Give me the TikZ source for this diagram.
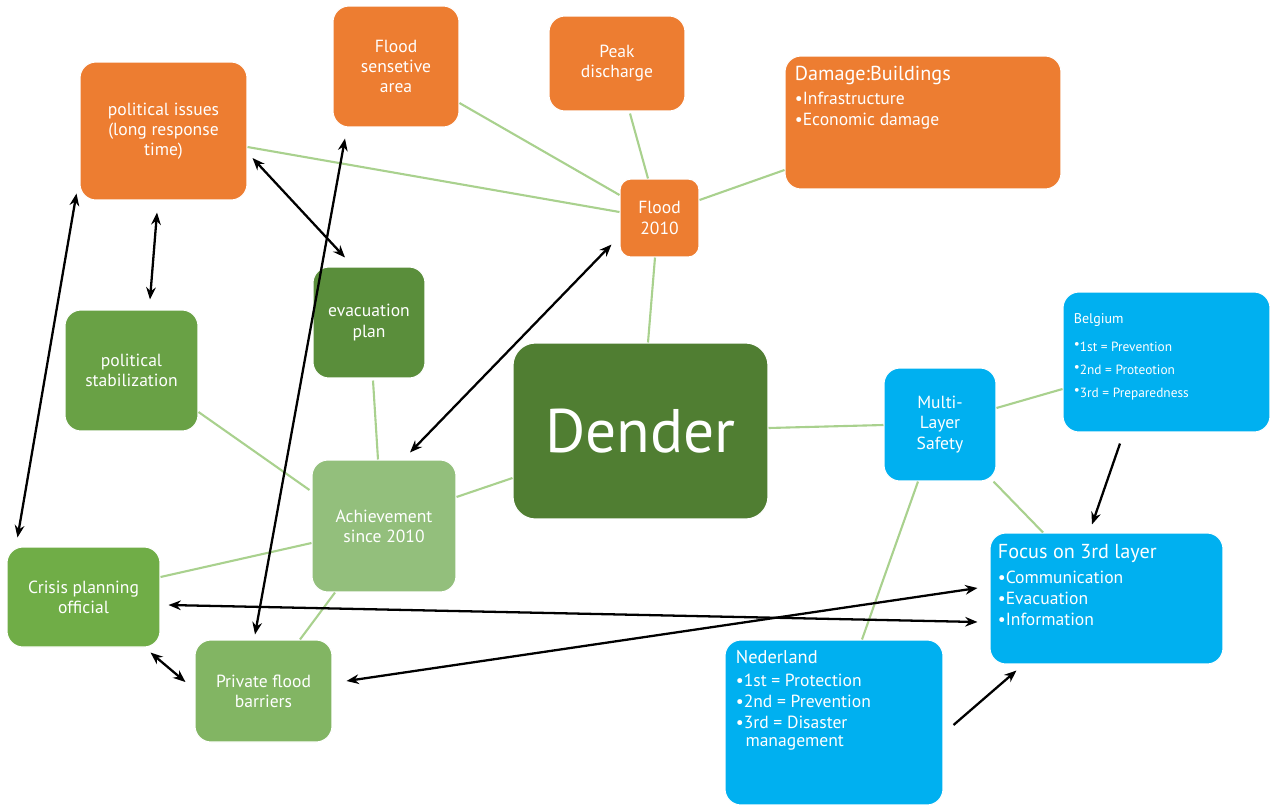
\documentclass[tikz,border=0pt]{standalone}
\usepackage{fontspec}
\setmainfont{PT Sans}
\usetikzlibrary{arrows.meta,calc}
\definecolor{orng}{HTML}{ED7D31}
\definecolor{dgreen}{HTML}{507E32}
\definecolor{evgreen}{HTML}{5A8E3B}
\definecolor{psgreen}{HTML}{69A145}
\definecolor{crgreen}{HTML}{70AD47}
\definecolor{prgreen}{HTML}{82B563}
\definecolor{acgreen}{HTML}{93BF7C}
\definecolor{sky}{HTML}{00B0F0}
\definecolor{lnk}{HTML}{A9D18E}
\tikzset{
  box/.style={rectangle, rounded corners=0.32cm, draw=white, line width=0.6pt,
    text=white, align=center, inner sep=2pt, font=\fontsize{10}{11.5}\selectfont},
  boxtext/.style={anchor=north west, inner sep=0pt, text=white, align=left,
    font=\fontsize{10}{11.9}\selectfont},
  link/.style={draw=lnk, line width=1.2pt},
  dbl/.style={draw=black, line width=1.3pt, {Stealth[length=7pt,width=5.5pt]}-{Stealth[length=7pt,width=5.5pt]}},
  sgl/.style={draw=black, line width=1.3pt, -{Stealth[length=7pt,width=5.5pt]}}
}
\begin{document}
\begin{tikzpicture}[x=0.02cm,y=-0.02cm]
\useasboundingbox (0,0) rectangle (1272,809);
% boxes
\node[box, fill=orng, minimum width=3.34cm, minimum height=2.76cm] (pol) at (163.5,131) {political issues\\(long response\\time)};
\node[box, fill=orng, minimum width=2.52cm, minimum height=2.42cm] (fsa) at (396,66.5) {Flood\\sensetive\\area};
\node[box, fill=orng, minimum width=2.72cm, minimum height=1.90cm] (peak) at (617,63.5) {Peak\\discharge};
\node[box, fill=orng, minimum width=5.52cm, minimum height=2.66cm] (dmg) at (923,122.5) {};
\node[box, fill=orng, minimum width=1.58cm, minimum height=1.56cm, rounded corners=0.22cm] (flood) at (659.5,218) {Flood\\2010};
\node[box, fill=evgreen, minimum width=2.24cm, minimum height=2.22cm] (evac) at (369,322.5) {evacuation\\plan};
\node[box, fill=psgreen, minimum width=2.66cm, minimum height=2.42cm] (pstab) at (131.5,370.5) {political\\stabilization};
\node[box, fill=dgreen, minimum width=5.10cm, minimum height=3.52cm, rounded corners=0.45cm, font=\fontsize{35}{38}\selectfont] (dender) at (640.5,431) {Dender};
\node[box, fill=sky, minimum width=2.24cm, minimum height=2.26cm] (mls) at (940,424.5) {Multi-\\Layer\\Safety};
\node[box, fill=sky, minimum width=4.14cm, minimum height=2.80cm] (belg) at (1166.5,362) {};
\node[box, fill=acgreen, minimum width=2.88cm, minimum height=2.64cm] (ach) at (384,526) {Achievement\\since 2010};
\node[box, fill=crgreen, minimum width=3.06cm, minimum height=2.00cm] (crisis) at (83.5,597) {Crisis planning\\official};
\node[box, fill=prgreen, minimum width=2.74cm, minimum height=2.04cm] (priv) at (263.5,691) {Private flood\\barriers};
\node[box, fill=sky, minimum width=4.66cm, minimum height=2.62cm] (focus) at (1106.5,598.5) {};
\node[box, fill=sky, minimum width=4.36cm, minimum height=3.30cm] (ned) at (834,722.5) {};
% box texts
\node[boxtext] (dmgtxt) at ($(dmg.north west)+(10,10)$) {{\fontsize{11.5}{12}\selectfont Damage:Buildings}\\[2pt]\textbullet{}Infrastructure\\\textbullet{}Economic damage};
\node[boxtext, font=\fontsize{7.6}{13}\selectfont] (belgtxt) at ($(belg.north west)+(11,22)$) {{\fontsize{8}{13}\selectfont Belgium}\\[3pt]\raisebox{2pt}{\textbullet}1st = Prevention\\\raisebox{2pt}{\textbullet}2nd = Proteotion\\\raisebox{2pt}{\textbullet}3rd = Preparedness};
\node[boxtext] (focustxt) at ($(focus.north west)+(8,12)$) {{\fontsize{11.5}{12}\selectfont Focus on 3rd layer}\\[2pt]\textbullet{}Communication\\\textbullet{}Evacuation\\\textbullet{}Information};
\node[boxtext] (nedtxt) at ($(ned.north west)+(11,11)$) {{\fontsize{10.5}{12}\selectfont Nederland}\\[1pt]\textbullet{}1st = Protection\\\textbullet{}2nd = Prevention\\\textbullet{}3rd = Disaster\\[-1.5pt]\hspace*{5.5pt}management};
% green links
\draw[link] ($(pol.east)+(0,16)$) -- ($(flood.west)+(0,-6)$);
\draw[link] ($(fsa.east)+(0,36.5)$) -- ($(flood.west)+(0,-23)$);
\draw[link] ($(peak.south)+(13,2)$) -- ($(flood.north)+(-11.5,0)$);
\draw[link] ($(dmg.west)+(0,47.5)$) -- ($(flood.east)+(0,-18)$);
\draw[link] ($(flood.south)+(-4.5,0)$) -- ($(dender.north)+(7.5,0)$);
\draw[link] ($(dender.east)+(0,-3)$) -- ($(mls.west)+(0,0.5)$);
\draw[link] ($(mls.east)+(0,-16.5)$) -- ($(belg.west)+(0,27)$);
\draw[link] ($(mls.south east)+(-3,0)$) -- ($(focus.north)+(-63.5,0)$);
\draw[link] ($(mls.south)+(-22,0)$) -- ($(ned.north)+(28,0)$);
\draw[link] ($(dender.west)+(0,47)$) -- ($(ach.east)+(0,-29)$);
\draw[link] ($(evac.south)+(4,2)$) -- ($(ach.north)+(-6,0)$);
\draw[link] ($(pstab.east)+(0,41.5)$) -- ($(ach.west)+(-2,-36)$);
\draw[link] ($(crisis.east)+(0,-20)$) -- ($(ach.west)+(0,17)$);
\draw[link] ($(ach.south)+(-49,0)$) -- ($(priv.north)+(36.5,0)$);
% black arrows
\draw[dbl] ($(pol.south west)+(-3,-7)$) -- ($(crisis.north west)+(11,-9)$);
\draw[dbl] ($(pol.south)+(-6.5,12)$) -- ($(pstab.north)+(18.5,-10)$);
\draw[dbl] ($(pol.east)+(5,27)$) -- ($(evac.north)+(-24,-9)$);
\draw[dbl] ($(fsa.south)+(-51,11)$) -- ($(priv.north)+(-8.5,-5)$);
\draw[dbl] ($(flood.south west)+(-8,-13)$) -- ($(ach.north)+(26,-7)$);
\draw[dbl] ($(crisis.east)+(8,8)$) -- ($(focus.west)+(-12,23.5)$);
\draw[dbl] ($(priv.east)+(14,-10)$) -- ($(focus.west)+(-12,-10.5)$);
\draw[dbl] ($(crisis.south east)+(-10,5)$) -- ($(priv.west)+(-9,-9)$);
\draw[sgl] ($(belg.south)+(-46.5,11)$) -- ($(focus.north)+(-14.5,-8)$);
\draw[sgl] ($(ned.east)+(10,2.5)$) -- ($(focus.south west)+(27,6)$);
\end{tikzpicture}
\end{document}
